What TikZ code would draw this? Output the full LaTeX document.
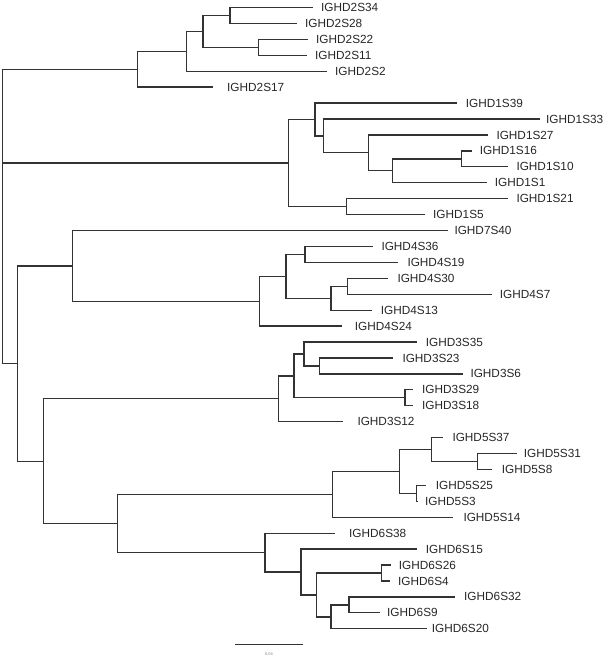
\documentclass[tikz,border=0pt]{standalone}
\usepackage{fontspec}
\setmainfont{Liberation Sans}
\usetikzlibrary{positioning}
\definecolor{treegray}{HTML}{333333}

\begin{document}
\begin{tikzpicture}[
  x=1pt, y=-1pt,
  branch/.style={draw=treegray, line width=1.3pt},
  taxon/.style={font=\fontsize{11.8}{12}\selectfont, text=black!85,
    anchor=west, inner sep=0pt},
  scalelbl/.style={font=\fontsize{4}{4}\selectfont, text=black!50, inner sep=0pt},
]
  \useasboundingbox (0,0) rectangle (609,658);

  % leaf tips and their names, top to bottom (index/tip x/gap/name)
  \foreach \i/\len/\gap/\nm in {
      0/313/8/IGHD2S34, 1/297/8/IGHD2S28, 2/308/8/IGHD2S22, 3/307/8/IGHD2S11,
      4/327/8/IGHD2S2, 5/213/14/IGHD2S17,
      6/456.7/9/IGHD1S39, 7/540/6/IGHD1S33, 8/488.3/8/IGHD1S27, 9/471.7/8/IGHD1S16,
      10/508.3/8/IGHD1S10, 11/486.7/8/IGHD1S1, 12/508.3/8/IGHD1S21, 13/425/8/IGHD1S5,
      14/448.3/6/IGHD7S40,
      15/373.3/8/IGHD4S36, 16/398.3/9/IGHD4S19, 17/388.3/9/IGHD4S30, 18/491.7/8/IGHD4S7,
      19/371.7/9/IGHD4S13, 20/341.7/13/IGHD4S24,
      21/416.7/9/IGHD3S35, 22/393.3/9/IGHD3S23, 23/463.3/7/IGHD3S6, 24/413/9/IGHD3S29,
      25/413/9/IGHD3S18, 26/343.3/14/IGHD3S12,
      27/443.3/9/IGHD5S37, 28/516.7/7/IGHD5S31, 29/491.7/10/IGHD5S8, 30/425.7/10/IGHD5S25,
      31/418/7/IGHD5S3, 32/453.3/10/IGHD5S14,
      33/335/14/IGHD6S38, 34/416.7/9/IGHD6S15, 35/390.7/8/IGHD6S26, 36/390/8/IGHD6S4,
      37/455/9/IGHD6S32, 38/380/7/IGHD6S9, 39/426.7/5/IGHD6S20} {
    \coordinate (t\i) at (\len, 7.5+15.93*\i);
    \node[taxon, right=\gap pt of t\i] (n\i) {\nm};
  }

  % inner nodes of the tree
  \foreach \nd/\x/\y in {
      root/2.7/216.4,
      d2/137.3/69.2, d2a/186.5/51.3, d2b/203/31.4, d2c/230/15.5, d2d/258.3/47.3,
      d1/288.3/163.1, d1a/315/119.5, d1b/323.3/135.9, d1c/368.3/152.8,
      d1d/392.7/170.8, d1e/461.7/158.9, d1f/346.7/206.6,
      dlow/17.3/363.5,
      d47/72.7/265.9, d4/259.3/301.2, d4a/286/276.3, d4b/305/254.4,
      d4c/331/298.2, d4d/347.3/286.3,
      d356/43.3/461.2,
      d3/278.3/398.8, d3a/294/375.9, d3b/304/354, d3c/319.3/366, d3d/405/397.8,
      d56/117.3/523.5,
      d5/332.7/494.4, d5a/399.3/471.5, d5b/431.7/449.6, d5c/477.3/461.5,
      d5d/416.7/493.4,
      d6/265/552.7, d6a/301/572.1, d6b/316.7/595, d6c/381.7/573,
      d6d/331/616.9, d6e/349/605} {
    \coordinate (\nd) at (\x,\y);
  }

  % branches, parent to child
  \foreach \p/\c in {
      root/d2, root/d1, root/dlow,
      d2/d2a, d2/t5, d2a/d2b, d2a/t4, d2b/d2c, d2b/d2d,
      d2c/t0, d2c/t1, d2d/t2, d2d/t3,
      d1/d1a, d1/d1f, d1a/t6, d1a/d1b, d1b/t7, d1b/d1c, d1c/t8, d1c/d1d,
      d1d/d1e, d1d/t11, d1e/t9, d1e/t10, d1f/t12, d1f/t13,
      dlow/d47, dlow/d356,
      d47/t14, d47/d4, d4/d4a, d4/t20, d4a/d4b, d4a/d4c,
      d4b/t15, d4b/t16, d4c/d4d, d4c/t19, d4d/t17, d4d/t18,
      d356/d3, d356/d56,
      d3/d3a, d3/t26, d3a/d3b, d3a/d3d, d3b/t21, d3b/d3c,
      d3c/t22, d3c/t23, d3d/t24, d3d/t25,
      d56/d5, d56/d6,
      d5/d5a, d5/t32, d5a/d5b, d5a/d5d, d5b/t27, d5b/d5c,
      d5c/t28, d5c/t29, d5d/t30, d5d/t31,
      d6/t33, d6/d6a, d6a/t34, d6a/d6b, d6b/d6c, d6b/d6d,
      d6c/t35, d6c/t36, d6d/d6e, d6d/t39, d6e/t37, d6e/t38} {
    \draw[branch] (\p) |- (\c);
  }

  % scale bar
  \coordinate (sbl) at (235,644.7);
  \coordinate (sbr) at (303.3,644.7);
  \draw[branch] (sbl) -- (sbr);
  \node[scalelbl] (sbtxt) at (269,654) {0.04};

\end{tikzpicture}
\end{document}
